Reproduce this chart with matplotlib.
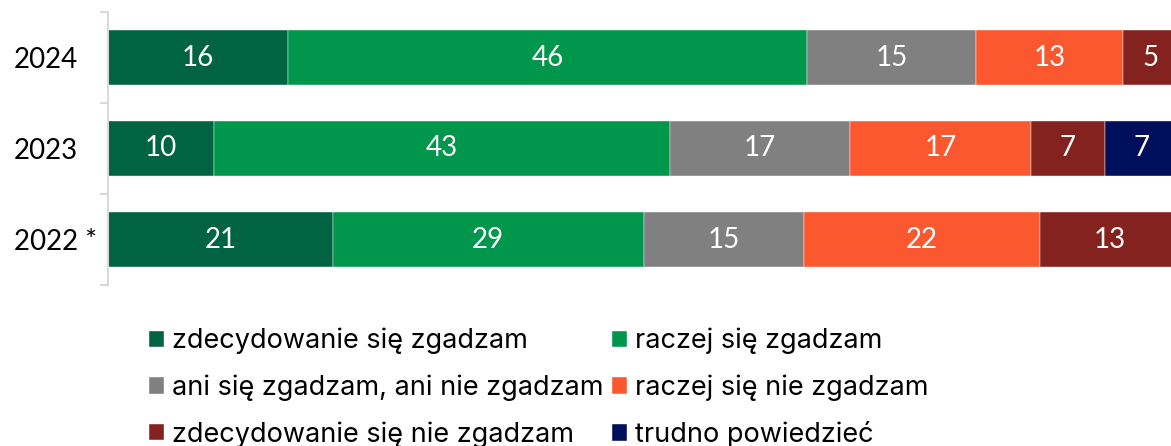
import numpy as np
import matplotlib
matplotlib.use("Agg")
import matplotlib.pyplot as plt

plt.rcParams['font.family'] = ['Lato', 'DejaVu Sans']

# dane
lata = ["2024", "2023", "2022 *"]
kategorie = ["zdecydowanie się zgadzam", "raczej się zgadzam",
             "ani się zgadzam, ani nie zgadzam", "raczej się nie zgadzam",
             "zdecydowanie się nie zgadzam", "trudno powiedzieć"]
zdecydowanie_tak = [16, 10, 21]
raczej_tak = [46, 43, 29]
ani_ani = [15, 17, 15]
raczej_nie = [13, 17, 22]
zdecydowanie_nie = [5, 7, 13]
trudno = [0, 7, 0]
kolory = ["#006341", "#00964B", "#808080", "#FC5830", "#84221F", "#000F5B"]

serie = [zdecydowanie_tak, raczej_tak, ani_ani, raczej_nie, zdecydowanie_nie, trudno]
sumy = np.sum(np.array(serie), axis=0)

fig = plt.figure(figsize=(11.71, 4.46), dpi=100)
ax = fig.add_axes([108 / 1171, 1 - 285 / 446, (1179 - 108) / 1171, 273 / 446])

y = np.arange(len(lata))
lewo = np.zeros(len(lata))
uchwyty = []
for s, kat, kol in zip(serie, kategorie, kolory):
    szer = np.array(s) / sumy * 100
    b = ax.barh(y, szer, left=lewo, height=0.595, color=kol, label=kat,
                edgecolor="#ffffff", linewidth=0.3)
    etykiety = [str(v) if v > 0 else "" for v in s]
    ax.bar_label(b, labels=etykiety, label_type="center", color="white", fontsize=20)
    uchwyty.append(b)
    lewo = lewo + szer

ax.set_xlim(0, 100)
ax.set_ylim(2.5, -0.5)
ax.set_xticks([])
ax.set_yticks(y)
ax.set_yticklabels(lata, fontsize=20)
for t in ax.get_yticklabels():
    t.set_ha("left")
ax.tick_params(axis="y", which="major", length=0, pad=68)
ax.set_yticks([-0.5, 0.5, 1.5, 2.5], minor=True)
ax.tick_params(axis="y", which="minor", length=6, width=1.5, color="#d9d9d9")
for sp in ["top", "right", "bottom"]:
    ax.spines[sp].set_visible(False)
ax.spines["left"].set_color("#d9d9d9")
ax.spines["left"].set_linewidth(1.5)

kolejnosc = [0, 2, 4, 1, 3, 5]
leg = fig.legend([uchwyty[i] for i in kolejnosc], [kategorie[i] for i in kolejnosc],
                 ncol=2, loc="upper left", bbox_to_anchor=(149 / 1171, 1 - 328 / 446),
                 frameon=False, handlelength=0.55, handleheight=0.55,
                 handletextpad=0.3, columnspacing=0.3, labelspacing=0.74,
                 borderaxespad=0, borderpad=0,
                 prop={"family": ["Inter", "DejaVu Sans"], "size": 19.5})

fig.savefig("out.png", dpi=100)
